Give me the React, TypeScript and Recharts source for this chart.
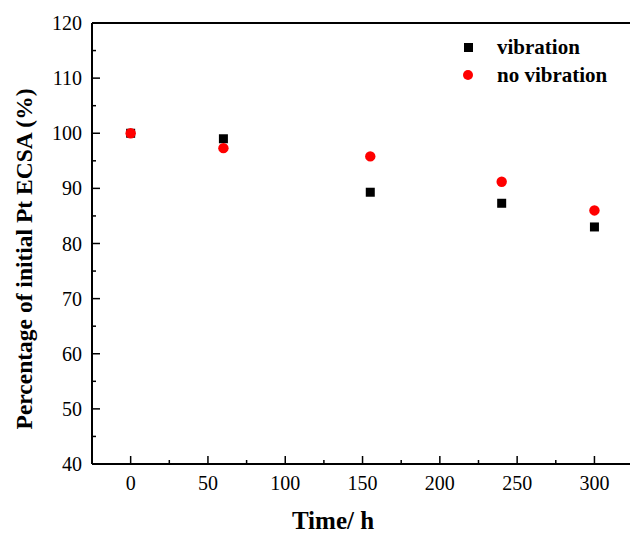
import { ScatterChart, Scatter, XAxis, YAxis, ReferenceLine, Label } from 'recharts';

const times = [0, 60, 155, 240, 300];
const vibration = [100, 99.0, 89.3, 87.3, 83.0];
const noVibration = [100, 97.3, 95.8, 91.2, 86.0];

const xTicks = [0, 25, 50, 75, 100, 125, 150, 175, 200, 225, 250, 275, 300];
const yTicks = [40, 45, 50, 55, 60, 65, 70, 75, 80, 85, 90, 95, 100, 105, 110, 115, 120];

const FONT = "'Liberation Serif', 'Times New Roman', serif";

const vibData = times.map((t, i) => ({ x: t, y: vibration[i] }));
const noVibData = times.map((t, i) => ({ x: t, y: noVibration[i] }));

const XTick = (props: any) => {
    const { x, y, payload } = props;
    const major = payload.value % 50 === 0;
    return (
        <g>
            <line x1={x} y1={y} x2={x} y2={y - (major ? 8 : 4)} stroke="#000" strokeWidth={1.5} />
            {major && (
                <text x={x} y={y + 19} textAnchor="middle" dominantBaseline="central"
                    fontFamily={FONT} fontSize={20} fill="#000">
                    {payload.value}
                </text>
            )}
        </g>
    );
};

const YTick = (props: any) => {
    const { x, y, payload } = props;
    const major = payload.value % 10 === 0;
    return (
        <g>
            <line x1={x} y1={y} x2={x + (major ? 8 : 4)} y2={y} stroke="#000" strokeWidth={1.5} />
            {major && (
                <text x={x - 10} y={y} textAnchor="end" dominantBaseline="central"
                    fontFamily={FONT} fontSize={20} fill="#000">
                    {payload.value}
                </text>
            )}
        </g>
    );
};

const Square = (props: any) => (
    <rect x={props.cx - 4.5} y={props.cy - 4.5} width={9} height={9} fill="#000" />
);

const Dot = (props: any) => <circle cx={props.cx} cy={props.cy} r={5.2} fill="#ff0000" />;

export default function App() {
    return (
        <div style={{ position: 'absolute', left: 0, top: 0, width: 630, height: 534, background: '#fff' }}>
            <ScatterChart width={630} height={534} margin={{ top: 23, right: 0, bottom: 0, left: 0 }}>
                <XAxis
                    type="number"
                    dataKey="x"
                    domain={[-25, 323]}
                    ticks={xTicks}
                    interval={0}
                    allowDataOverflow
                    height={70}
                    tickSize={0}
                    tickMargin={0}
                    tickLine={false}
                    tick={XTick}
                    axisLine={{ stroke: '#000', strokeWidth: 2 }}
                >
                    <Label
                        content={() => (
                            <text x={333} y={529} textAnchor="middle" fontFamily={FONT}
                                fontSize={25} fontWeight="bold" fill="#000">
                                Time/ h
                            </text>
                        )}
                    />
                </XAxis>
                <YAxis
                    type="number"
                    dataKey="y"
                    domain={[40, 120]}
                    ticks={yTicks}
                    interval={0}
                    width={92}
                    tickSize={0}
                    tickMargin={0}
                    tickLine={false}
                    tick={YTick}
                    axisLine={{ stroke: '#000', strokeWidth: 2 }}
                >
                    <Label
                        content={() => (
                            <text x={24} y={259} transform="rotate(-90 24 259)" textAnchor="middle"
                                dominantBaseline="central" fontFamily={FONT} fontSize={23.5}
                                fontWeight="bold" fill="#000">
                                Percentage of initial Pt ECSA (%)
                            </text>
                        )}
                    />
                </YAxis>
                <ReferenceLine y={120} stroke="#000" strokeWidth={2} />
                <Scatter name="vibration" data={vibData} shape={Square} isAnimationActive={false} />
                <Scatter name="no vibration" data={noVibData} shape={Dot} isAnimationActive={false} />
            </ScatterChart>
            <div style={{ position: 'absolute', left: 460, top: 33, fontFamily: FONT, fontWeight: 'bold', fontSize: 21, lineHeight: '28px', color: '#000' }}>
                <div style={{ display: 'flex', alignItems: 'center' }}>
                    <span style={{ display: 'inline-block', width: 9, height: 9, background: '#000', marginLeft: 4, marginRight: 24 }} />
                    vibration
                </div>
                <div style={{ display: 'flex', alignItems: 'center' }}>
                    <span style={{ display: 'inline-block', width: 10, height: 10, borderRadius: 5, background: '#ff0000', marginLeft: 3, marginRight: 24 }} />
                    no vibration
                </div>
            </div>
        </div>
    );
}
